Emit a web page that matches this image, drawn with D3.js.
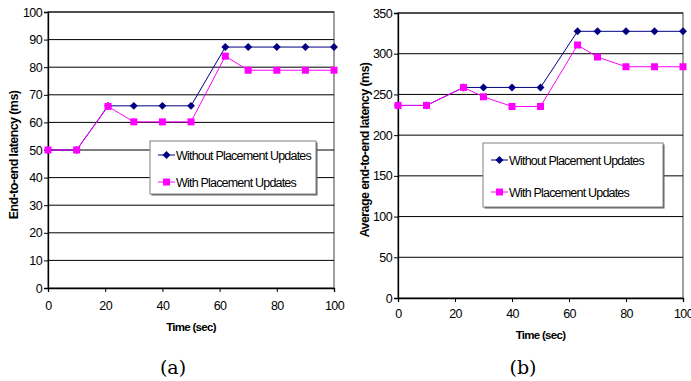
<!DOCTYPE html>
<html>
<head>
<meta charset="utf-8">
<script src="https://cdn.jsdelivr.net/npm/d3@7"></script>
<style>
  body { margin: 0; background: #fff; }
  svg { display: block; }
  .tick text { font-family: "Liberation Sans", Arial, sans-serif; font-size: 12.5px; letter-spacing: -0.6px; fill: #000; }
</style>
</head>
<body>
<svg id="chart" width="691" height="381"></svg>
<script>
// ---- data ----
const seriesNames = ["Without Placement Updates", "With Placement Updates"];
const xTicks = [0, 20, 40, 60, 80, 100];

// (a)
const timeA = [0, 10, 21, 30, 40, 50, 62, 70, 80, 90, 100];
const withoutA = [50, 50, 66, 66, 66, 66, 87.3, 87.3, 87.3, 87.3, 87.3];
const withA = [50, 50, 65.8, 60.2, 60.2, 60.2, 84, 78.9, 78.9, 78.9, 78.9];
const yTicksA = [0, 10, 20, 30, 40, 50, 60, 70, 80, 90, 100];

// (b)
const timeB = [0, 10, 23, 30, 40, 50, 63, 70, 80, 90, 100];
const withoutB = [236.5, 236.5, 258.6, 258.6, 258.6, 258.6, 327.5, 327.5, 327.5, 327.5, 327.5];
const withB = [236.5, 236.5, 258.6, 247.1, 235.2, 235.2, 310.7, 295.9, 284, 284, 284];
const yTicksB = [0, 50, 100, 150, 200, 250, 300, 350];

const blue = "#000080", pink = "#ff00ff";
const svg = d3.select("#chart");

function drawPanel(cfg) {
  const x = d3.scaleLinear().domain([0, 100]).range([cfg.left, cfg.right]);
  const y = d3.scaleLinear().domain([0, cfg.yMax]).range([cfg.bottom, cfg.top]);
  const g = svg.append("g");

  // grey frame (top / right)
  g.append("rect")
    .attr("x", cfg.left).attr("y", cfg.top)
    .attr("width", cfg.right - cfg.left).attr("height", cfg.bottom - cfg.top)
    .attr("fill", "none").attr("stroke", "#808080").attr("stroke-width", 1.5);

  // gridlines
  g.append("g").selectAll("line")
    .data(cfg.yTicks.filter(d => d > 0))
    .join("line")
    .attr("x1", cfg.left).attr("x2", cfg.right)
    .attr("y1", d => y(d)).attr("y2", d => y(d))
    .attr("stroke", "#000").attr("stroke-width", 1);

  // axes
  const ya = g.append("g").attr("transform", `translate(${cfg.left},0)`)
    .call(d3.axisLeft(y).tickValues(cfg.yTicks).tickSize(4).tickPadding(2));
  const xa = g.append("g").attr("transform", `translate(0,${cfg.bottom})`)
    .call(d3.axisBottom(x).tickValues(xTicks).tickSize(4).tickPadding(cfg.xPad));
  [ya, xa].forEach(a => {
    a.select(".domain").attr("stroke", "#000").attr("stroke-width", 1.3);
    a.selectAll(".tick line").attr("stroke", "#000");
  });

  // axis titles
  g.append("text")
    .attr("x", (cfg.left + cfg.right) / 2 - 0).attr("y", cfg.xTitleY)
    .attr("text-anchor", "middle")
    .style("font-family", "Liberation Sans, Arial, sans-serif")
    .style("font-size", "11.5px").style("font-weight", "bold").style("letter-spacing", "-0.7px")
    .text("Time (sec)");
  g.append("text")
    .attr("transform", `translate(${cfg.yTitleX},${cfg.yTitleCY}) rotate(-90)`)
    .attr("text-anchor", "middle")
    .style("font-family", "Liberation Sans, Arial, sans-serif")
    .style("font-size", "12.5px").style("font-weight", "bold").style("letter-spacing", "-0.6px")
    .text(cfg.yTitle);

  // lines + markers
  const line = d3.line().x(d => x(d[0])).y(d => y(d[1]));
  const s1 = cfg.time.map((t, i) => [t, cfg.without[i]]);
  const s2 = cfg.time.map((t, i) => [t, cfg.withU[i]]);
  g.append("path").datum(s1).attr("d", line).attr("fill", "none").attr("stroke", blue).attr("stroke-width", 1);
  g.append("path").datum(s2).attr("d", line).attr("fill", "none").attr("stroke", pink).attr("stroke-width", 1);

  const diamond = d3.symbol().type(d3.symbolDiamond2).size(40);
  g.append("g").selectAll("path").data(s1).join("path")
    .attr("d", diamond)
    .attr("transform", d => `translate(${x(d[0])},${y(d[1])})`)
    .attr("fill", blue);
  g.append("g").selectAll("rect").data(s2).join("rect")
    .attr("x", d => x(d[0]) - 3.5).attr("y", d => y(d[1]) - 3.5)
    .attr("width", 7).attr("height", 7)
    .attr("fill", pink);

  // legend
  const L = cfg.legend;
  g.append("rect").attr("x", L.x + 1.5).attr("y", L.y + 1.5).attr("width", L.w).attr("height", L.h)
    .attr("fill", "#606060");
  g.append("rect").attr("x", L.x).attr("y", L.y).attr("width", L.w).attr("height", L.h)
    .attr("fill", "#fff").attr("stroke", "#808080").attr("stroke-width", 1);
  const items = g.append("g").selectAll("g").data(seriesNames).join("g")
    .attr("transform", (d, i) => `translate(${L.x + 8},${L.y + L.first + i * L.gap})`);
  items.append("line").attr("x1", 0).attr("x2", 17).attr("y1", 0).attr("y2", 0)
    .attr("stroke", (d, i) => i === 0 ? blue : pink);
  items.append("path").attr("d", (d, i) => i === 0 ? diamond() : "M-3.5,-3.5h7v7h-7z")
    .attr("transform", "translate(8.5,0)")
    .attr("fill", (d, i) => i === 0 ? blue : pink);
  items.append("text").attr("x", 18).attr("y", 4.5)
    .style("font-family", "Liberation Sans, Arial, sans-serif")
    .style("font-size", "12.5px").style("letter-spacing", "-0.8px")
    .text(d => d);

  // caption
  svg.append("text").attr("x", cfg.capX).attr("y", 374)
    .attr("text-anchor", "middle")
    .style("font-family", "DejaVu Serif, Liberation Serif, serif")
    .style("font-size", "19px")
    .text(cfg.caption);
}

drawPanel({
  left: 48, right: 334, top: 12, bottom: 288, yMax: 100, yTicks: yTicksA, xPad: 9,
  time: timeA, without: withoutA, withU: withA,
  yTitle: "End-to-end latency (ms)", yTitleX: 18, yTitleCY: 155, xTitleY: 331,
  legend: { x: 150, y: 141, w: 166, h: 53, first: 14, gap: 27 },
  caption: "(a)", capX: 173
});
drawPanel({
  left: 398, right: 683, top: 13, bottom: 298, yMax: 350, yTicks: yTicksB, xPad: 7,
  time: timeB, without: withoutB, withU: withB,
  yTitle: "Average end-to-end latency (ms)", yTitleX: 369, yTitleCY: 150, xTitleY: 339,
  legend: { x: 483, y: 143, w: 180, h: 64, first: 17, gap: 32 },
  caption: "(b)", capX: 523
});
</script>
</body>
</html>
